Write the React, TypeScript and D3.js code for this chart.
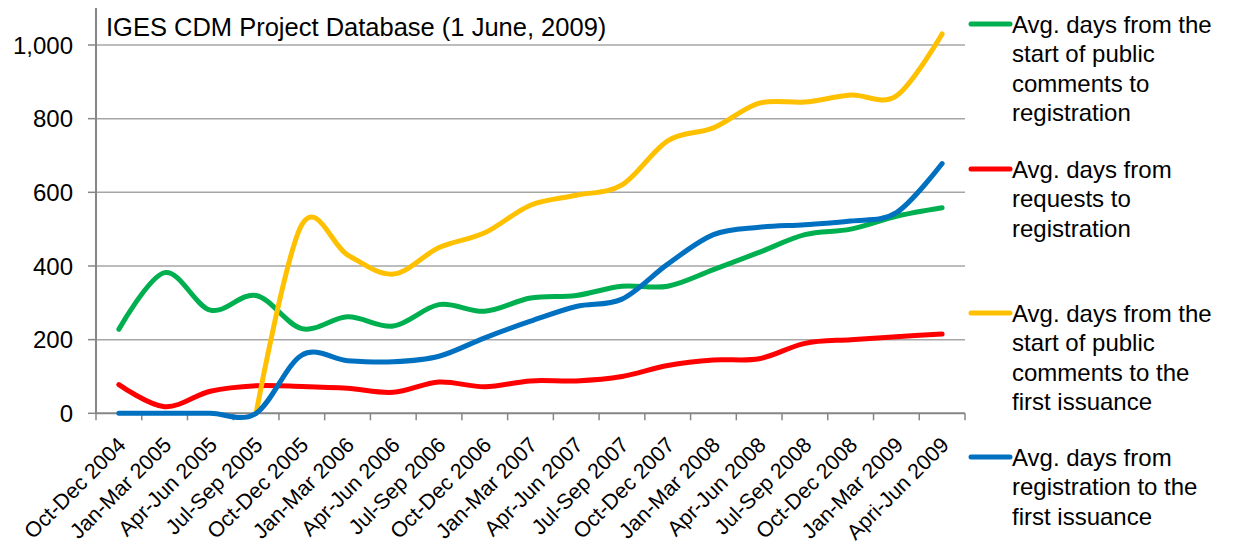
import React from "react";
import * as d3 from "d3";

const categories = [
  "Oct-Dec 2004", "Jan-Mar 2005", "Apr-Jun 2005", "Jul-Sep 2005", "Oct-Dec 2005",
  "Jan-Mar 2006", "Apr-Jun 2006", "Jul-Sep 2006", "Oct-Dec 2006", "Jan-Mar 2007",
  "Apr-Jun 2007", "Jul-Sep 2007", "Oct-Dec 2007", "Jan-Mar 2008", "Apr-Jun 2008",
  "Jul-Sep 2008", "Oct-Dec 2008", "Jan-Mar 2009", "Apri-Jun 2009",
];

const greenValues = [228, 382, 280, 320, 230, 262, 237, 295, 277, 313, 320, 345, 345, 390, 437, 485, 500, 535, 558];
const redValues = [78, 18, 60, 75, 73, 68, 57, 85, 72, 88, 88, 100, 130, 145, 148, 190, 200, 208, 215];
const yellowValues: (number | null)[] = [null, null, null, 0, 512, 430, 378, 450, 490, 565, 592, 620, 740, 775, 842, 845, 864, 862, 1030];
const blueValues = [0, 0, 0, 0, 158, 143, 140, 155, 205, 250, 290, 310, 405, 485, 505, 512, 522, 545, 678];

const yTicks = [0, 200, 400, 600, 800, 1000];

const seriesList = [
  { name: ["Avg. days from the", "start of public", "comments to", "registration"], color: "#00B050", values: greenValues },
  { name: ["Avg. days from", "requests to", "registration"], color: "#FF0000", values: redValues },
  { name: ["Avg. days from the", "start of public", "comments to the", "first issuance"], color: "#FFC000", values: yellowValues },
  { name: ["Avg. days from", "registration to the", "first issuance"], color: "#0070C0", values: blueValues },
];
const legendY = [24, 169, 313, 457];

const drawOrder = [0, 1, 2, 3];

export default function App() {
  const left = 96, right = 965, top = 45, bottom = 413.3;
  const x = d3.scaleBand().domain(categories).range([left, right]).paddingInner(0).paddingOuter(0);
  const y = d3.scaleLinear().domain([0, 1000]).range([bottom, top]);
  const cx = (i: number) => (x(categories[i]) as number) + x.bandwidth() / 2;
  const line = d3
    .line<number | null>()
    .defined((d) => d !== null)
    .x((_, i) => cx(i))
    .y((d) => y(d as number))
    .curve(d3.curveCatmullRom.alpha(0));
  const font = "'Liberation Sans', Arial, sans-serif";
  const grid = "#A6A6A6";
  const axisCol = "#868686";
  const boundaries = d3.range(categories.length + 1).map((i) => left + i * x.bandwidth());

  return (
    <div style={{ position: "absolute", left: 0, top: 0 }}>
      <svg width={1233} height={545} style={{ display: "block", background: "#fff" }}>
        {yTicks.map((t) => (
          <g key={t}>
            {t > 0 && <line x1={left} x2={right} y1={y(t)} y2={y(t)} stroke={grid} strokeWidth={1.5} />}
            <line x1={left - 8} x2={left} y1={y(t)} y2={y(t)} stroke={axisCol} strokeWidth={1.5} />
            <text x={73} y={y(t)} dy="0.36em" textAnchor="end" fontFamily={font} fontSize={24} fill="#000">
              {d3.format(",")(t)}
            </text>
          </g>
        ))}
        <line x1={left} x2={left} y1={8} y2={bottom} stroke={axisCol} strokeWidth={2} />
        <line x1={left} x2={right} y1={bottom} y2={bottom} stroke={axisCol} strokeWidth={2} />
        {boundaries.map((bx, i) => (
          <line key={i} x1={bx} x2={bx} y1={bottom} y2={bottom + 7} stroke={axisCol} strokeWidth={1.5} />
        ))}
        {categories.map((c, i) => (
          <text
            key={c}
            transform={`translate(${cx(i) + 8},${bottom + 33}) rotate(-45)`}
            textAnchor="end"
            fontFamily={font}
            fontSize={21.5}
            fill="#000"
          >
            {c}
          </text>
        ))}
        <text x={106} y={36} fontFamily={font} fontSize={25.5} fill="#000">
          IGES CDM Project Database (1 June, 2009)
        </text>
        {drawOrder.map((k) => (
          <path
            key={k}
            d={line(seriesList[k].values as (number | null)[]) || ""}
            fill="none"
            stroke={seriesList[k].color}
            strokeWidth={5}
            strokeLinecap="round"
            strokeLinejoin="round"
          />
        ))}
        {seriesList.map((s, k) => (
          <g key={k}>
            <line x1={971} x2={1010} y1={legendY[k]} y2={legendY[k]} stroke={s.color} strokeWidth={5} strokeLinecap="round" />
            {s.name.map((ln, j) => (
              <text key={j} x={1012} y={legendY[k] + 8.5 + j * 29.5} fontFamily={font} fontSize={24} fill="#000">
                {ln}
              </text>
            ))}
          </g>
        ))}
      </svg>
    </div>
  );
}
